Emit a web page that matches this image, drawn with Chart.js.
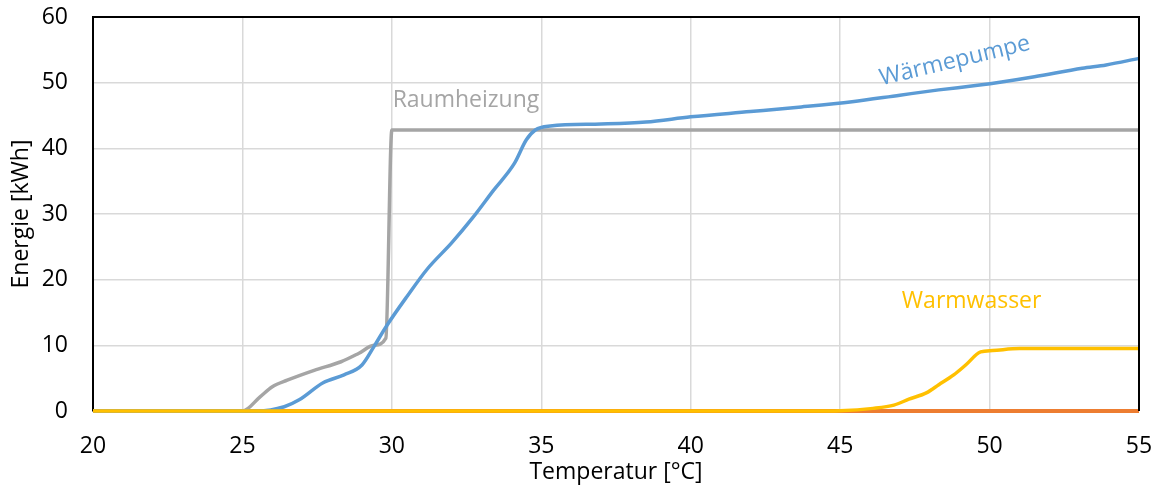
<!DOCTYPE html>
<html>
<head>
<meta charset="utf-8">
<script src="https://cdn.jsdelivr.net/npm/chart.js@4.4.0/dist/chart.umd.min.js"></script>
<style>
  html, body { margin: 0; padding: 0; background: #fff; }
  #wrap { width: 1161px; height: 488px; }
</style>
</head>
<body>
<div id="wrap"><canvas id="chart"></canvas></div>
<script>
// Werte (Temperatur in °C, Energie in kWh)
const raumT = [20, 25, 25.6, 26.0, 26.5, 27.4, 28.3, 28.9, 29.4, 29.8, 30.0, 55];
const raumE = [0, 0, 2.2, 3.7, 4.7, 6.2, 7.5, 8.8, 10.0, 11.1, 42.8, 42.8];

const pumpeT = [20, 25.5, 26.4, 26.9, 27.7, 28.4, 29.0, 29.4, 29.8, 30.5, 31.2, 32.0, 32.7, 33.4,
                34.1, 34.5, 34.8, 35.3, 37.0, 38.5, 40.0, 42.0, 43.7, 45.4, 47.0, 48.3, 49.6,
                50.4, 51.5, 53.1, 53.9, 55];
const pumpeE = [0, 0, 0.65, 1.7, 4.3, 5.5, 7.0, 9.8, 12.8, 17.4, 21.7, 25.6, 29.4, 33.6,
                37.7, 41.3, 42.8, 43.4, 43.7, 44.0, 44.8, 45.6, 46.3, 47.1, 48.1, 48.9, 49.6,
                50.1, 50.9, 52.2, 52.7, 53.7];

const wasserT = [20, 44, 45, 46.1, 46.8, 47.3, 47.9, 48.3, 48.8, 49.2, 49.7, 50.1, 51.0, 55];
const wasserE = [0, 0, 0.05, 0.4, 0.9, 1.8, 2.8, 4.0, 5.5, 7.0, 9.0, 9.2, 9.5, 9.5];

const restT = [20, 55];
const restE = [0, 0];

const xTicks = [20, 25, 30, 35, 40, 45, 50, 55];
const yTicks = [0, 10, 20, 30, 40, 50, 60];

const FONT = "'Open Sans', sans-serif";

// Beschriftungen direkt an den Kurven
const seriesLabels = [
    { text: 'Raumheizung', x: 32.48, y: 47.3, color: '#a5a5a5', angle: 0 },
    { text: 'Wärmepumpe', x: 48.84, y: 53.3, color: '#5b9bd5', angle: -13.5 },
    { text: 'Warmwasser', x: 49.4, y: 16.7, color: '#ffc000', angle: 0 }
];

function toPoints(xs, ys) {
    return xs.map((x, i) => ({ x: x, y: ys[i] }));
}

// Rahmen oben/rechts und Kurvenbeschriftungen
const framePlugin = {
    id: 'frame',
    afterDatasetsDraw(chart) {
        const { ctx, chartArea: a, scales } = chart;
        ctx.save();
        ctx.strokeStyle = '#000';
        ctx.lineWidth = 2;
        ctx.beginPath();
        ctx.moveTo(a.left, a.top);
        ctx.lineTo(a.right, a.top);
        ctx.lineTo(a.right, a.bottom);
        ctx.stroke();

        ctx.font = '23px ' + FONT;
        ctx.textAlign = 'center';
        ctx.textBaseline = 'middle';
        seriesLabels.forEach(l => {
            ctx.save();
            ctx.translate(scales.x.getPixelForValue(l.x), scales.y.getPixelForValue(l.y));
            ctx.rotate(l.angle * Math.PI / 180);
            ctx.fillStyle = l.color;
            ctx.fillText(l.text, 0, 0);
            ctx.restore();
        });
        ctx.restore();
    }
};

const lineDefaults = { borderWidth: 3.5, pointRadius: 0, fill: false, clip: false, cubicInterpolationMode: 'monotone' };

new Chart(document.getElementById('chart'), {
    type: 'line',
    data: {
        datasets: [
            { ...lineDefaults, label: 'Warmwasser', data: toPoints(wasserT, wasserE), borderColor: '#ffc000' },
            { ...lineDefaults, label: 'Wärmepumpe', data: toPoints(pumpeT, pumpeE), borderColor: '#5b9bd5' },
            { ...lineDefaults, label: 'Raumheizung', data: toPoints(raumT, raumE), borderColor: '#a5a5a5' },
            { ...lineDefaults, label: 'Sonstiges', data: toPoints(restT, restE), borderColor: '#ed7d31', borderWidth: 4 }
        ]
    },
    options: {
        responsive: true,
        maintainAspectRatio: false,
        animation: false,
        layout: { padding: { left: 0, top: 17, right: 22, bottom: 0 } },
        plugins: { legend: { display: false }, tooltip: { enabled: false } },
        scales: {
            x: {
                type: 'linear',
                min: 20,
                max: 55,
                afterBuildTicks: s => { s.ticks = xTicks.map(v => ({ value: v })); },
                afterFit: s => { s.height = 77; s.paddingLeft = 0; s.paddingRight = 0; },
                grid: { color: '#d9d9d9', lineWidth: 1.5, drawTicks: false },
                border: { display: false },
                ticks: { color: '#000', padding: 22, font: { family: FONT, size: 23 } },
                title: {
                    display: true,
                    text: 'Temperatur [°C]',
                    color: '#000',
                    font: { family: FONT, size: 23, lineHeight: 1.2 },
                    padding: { top: 0, bottom: 2 }
                }
            },
            y: {
                min: 0,
                max: 60,
                afterBuildTicks: s => { s.ticks = yTicks.map(v => ({ value: v })); },
                afterFit: s => { s.width = 93; s.paddingTop = 0; s.paddingBottom = 0; },
                grid: { color: '#d9d9d9', lineWidth: 1.5, drawTicks: false },
                border: { display: true, color: '#000', width: 2 },
                ticks: { color: '#000', padding: 25, font: { family: FONT, size: 23 } },
                title: {
                    display: true,
                    text: 'Energie [kWh]',
                    color: '#000',
                    font: { family: FONT, size: 23, lineHeight: 1.2 },
                    padding: { top: 8, bottom: 0 }
                }
            }
        }
    },
    plugins: [framePlugin]
});
</script>
</body>
</html>
